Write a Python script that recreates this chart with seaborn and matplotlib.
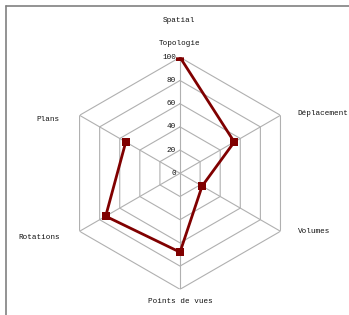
import numpy as np
import pandas as pd
import matplotlib
matplotlib.use('Agg')
import matplotlib.pyplot as plt
import seaborn as sns

# data
categories = ['Topologie', 'Déplacement', 'Volumes', 'Points de vues', 'Rotations', 'Plans']
values = [100, 54, 22, 68, 74, 54]
ticks = [0, 20, 40, 60, 80, 100]
title = 'Spatial'

sns.set_theme(style='white')
plt.rcParams['font.family'] = ['Liberation Mono', 'DejaVu Sans Mono']

gridcolor = '#b0b0b0'
linecolor = '#800000'
textcolor = '#111111'

fig = plt.figure(figsize=(3.49, 3.15), dpi=100)
fig.patch.set_facecolor('white')
ax = fig.add_axes([0.1834, 0.0816, 0.6648, 0.7365], projection='polar')
ax.set_theta_zero_location('N')
ax.set_theta_direction(-1)
ax.set_ylim(0, 100)
ax.grid(False)
ax.spines['polar'].set_visible(False)
ax.set_xticks([])
ax.set_yticks([])
ax.patch.set_alpha(0)

n = len(categories)
angles = np.arange(n) * 2 * np.pi / n

# hexagon rings and spokes
for t in ticks[1:]:
    ax.plot(np.append(angles, angles[0]), [t] * (n + 1), color=gridcolor, lw=0.8, zorder=1)
for a in angles:
    ax.plot([a, a], [0, 100], color=gridcolor, lw=0.8, zorder=1)

# data polygon
df = pd.DataFrame({'angle': np.append(angles, angles[0]),
                   'value': values + [values[0]]})
sns.lineplot(data=df, x='angle', y='value', sort=False, ax=ax, color=linecolor,
             lw=2, marker='s', markersize=5.5, markeredgewidth=0, zorder=3)
ax.set_xlabel('')
ax.set_ylabel('')

# radial tick labels
for t in ticks:
    ax.annotate(str(t), xy=(0, t), xytext=(-4, 0), textcoords='offset pixels',
                ha='right', va='center', fontsize=5.5, color=textcolor)

# category labels
offsets = [(0, 14, 'center'), (17, 2, 'left'), (17, 0, 'left'),
           (0, -12, 'center'), (-20, -6, 'right'), (-20, -4, 'right')]
for a, lab, (dx, dy, ha) in zip(angles, categories, offsets):
    ax.annotate(lab, xy=(a, 100), xytext=(dx, dy), textcoords='offset pixels',
                ha=ha, va='center', fontsize=5.5, color=textcolor)

fig.text(179 / 349, 1 - 21 / 315, title, ha='center', va='center', fontsize=5.5, color=textcolor)

# partial frame (left and top)
fig.add_artist(plt.Line2D([6 / 349, 6 / 349], [0, 1 - 6 / 315], transform=fig.transFigure,
                          color='#808080', lw=1.2))
fig.add_artist(plt.Line2D([6 / 349, 1], [1 - 6 / 315, 1 - 6 / 315], transform=fig.transFigure,
                          color='#808080', lw=1.2))

plt.savefig('out.png', dpi=100)
